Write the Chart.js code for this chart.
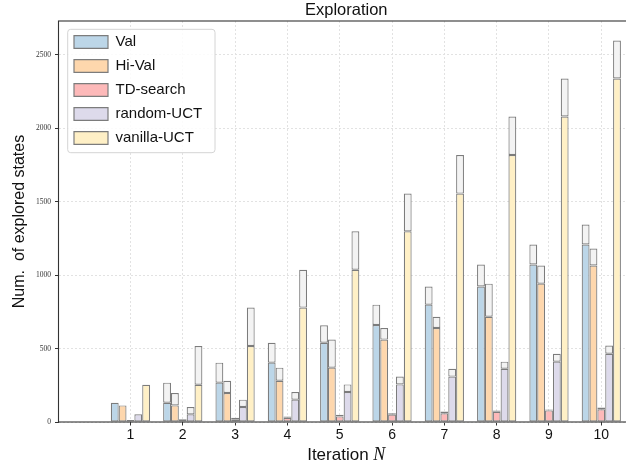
<!DOCTYPE html>
<html><head><meta charset="utf-8">
<script src="https://cdn.jsdelivr.net/npm/chart.js@4/dist/chart.umd.min.js"></script>
<style>html,body{margin:0;padding:0;overflow:hidden;background:#fff;} #wrap{width:636px;height:467px;}</style>
</head><body><div id="wrap"><canvas id="c" width="636" height="467"></canvas></div>
<script>
// ---- data ----
const iterations = [1, 2, 3, 4, 5, 6, 7, 8, 9, 10];
const yTicks = [0, 500, 1000, 1500, 2000, 2500];
const seriesNames = ['Val', 'Hi-Val', 'TD-search', 'random-UCT', 'vanilla-UCT'];
// states explored before the iteration (coloured part)
const valBase      = [131, 131, 268, 404, 540, 660, 799, 922, 1072, 1208];
const hiValBase    = [113, 113, 197, 281, 370, 561, 640, 717, 942, 1065];
const tdBase       = [13, 13, 18, 29, 38, 50, 59, 70, 79, 86];
const randomBase   = [52, 52, 102, 152, 204, 256, 309, 363, 411, 465];
const vanillaBase  = [254, 254, 517, 779, 1037, 1298, 1555, 1818, 2080, 2339];
// total states after the iteration (top of the light part)
const valTotal     = [131, 268, 404, 540, 658, 799, 922, 1072, 1208, 1344];
const hiValTotal   = [113, 197, 281, 370, 561, 640, 717, 942, 1065, 1181];
const tdTotal      = [13, 18, 29, 37, 50, 59, 71, 79, 85, 98];
const randomTotal  = [52, 102, 152, 204, 256, 309, 363, 411, 465, 520];
const vanillaTotal = [254, 517, 779, 1037, 1298, 1555, 1818, 2080, 2339, 2597];

// ---- styling ----
const fills = ['#bcd6e8', '#fed7ad', '#fdb9b9', '#dddaeb', '#fff0c6'];
const newFill = '#f3f3f3';
const edge = '#7c7c7c';
const SANS = '"Liberation Sans", Arial, sans-serif';

const seriesBase = [valBase, hiValBase, tdBase, randomBase, vanillaBase];
const seriesTotal = [valTotal, hiValTotal, tdTotal, randomTotal, vanillaTotal];

const datasets = [];
seriesNames.forEach((name, s) => {
  datasets.push({
    label: name, stack: name,
    data: iterations.map((x, i) => ({x: x, y: seriesBase[s][i]})),
    backgroundColor: fills[s], borderColor: edge, borderWidth: 1.2, borderSkipped: false
  });
  datasets.push({
    label: name + ' (new)', stack: name,
    data: iterations.map((x, i) => {
      const d = seriesTotal[s][i] - seriesBase[s][i];
      return {x: x, y: d > 0 ? d : null};
    }),
    backgroundColor: newFill, borderColor: edge, borderWidth: 1.2, borderSkipped: false
  });
});

const framePlugin = {
  id: 'frame',
  afterLayout(chart) {
    const lg = chart.legend, ca = chart.chartArea;
    if (lg) {
      lg.left = ca.left + 6.5;
      lg.top = ca.top + 4.5;
      if (!lg._patched) {
        const orig = lg.draw.bind(lg);
        lg.draw = function (area) {
          const ctx = chart.ctx;
          const x = this.left + 9 - 6.3, y = this.top + 9 - 5.2, w = 147.3, h = 123.4, r = 3;
          ctx.save();
          ctx.beginPath();
          ctx.moveTo(x + r, y); ctx.lineTo(x + w - r, y); ctx.arcTo(x + w, y, x + w, y + r, r);
          ctx.lineTo(x + w, y + h - r); ctx.arcTo(x + w, y + h, x + w - r, y + h, r);
          ctx.lineTo(x + r, y + h); ctx.arcTo(x, y + h, x, y + h - r, r);
          ctx.lineTo(x, y + r); ctx.arcTo(x, y, x + r, y, r); ctx.closePath();
          ctx.fillStyle = 'rgba(255,255,255,0.85)'; ctx.fill();
          ctx.strokeStyle = '#d4d4d4'; ctx.lineWidth = 1; ctx.stroke();
          ctx.restore();
          orig(area);
        };
        lg._patched = true;
      }
    }
  },
  afterDatasetsDraw(chart) {
    const ctx = chart.ctx, ca = chart.chartArea;
    ctx.save();
    ctx.strokeStyle = '#333'; ctx.lineWidth = 1.1;
    ctx.strokeRect(ca.left, ca.top, ca.right - ca.left, ca.bottom - ca.top);
    ctx.restore();
  },
  afterDraw(chart) {
    const ctx = chart.ctx, ca = chart.chartArea;
    ctx.save();
    ctx.fillStyle = '#111';
    ctx.textBaseline = 'alphabetic';
    const f1 = '17px ' + SANS, f2 = 'italic 18px "Liberation Serif", serif';
    ctx.font = f1; const w1 = ctx.measureText('Iteration ').width;
    ctx.font = f2; const w2 = ctx.measureText('N').width;
    const x0 = (ca.left + ca.right) / 2 - (w1 + w2) / 2;
    ctx.font = f1; ctx.textAlign = 'left'; ctx.fillText('Iteration ', x0, 460);
    ctx.font = f2; ctx.fillText('N', x0 + w1, 460);
    ctx.restore();
  }
};

new Chart(document.getElementById('c'), {
  type: 'bar',
  data: {datasets: datasets},
  plugins: [framePlugin],
  options: {
    responsive: false, animation: false,
    devicePixelRatio: 1,
    layout: {padding: {left: 0, right: 2, top: 0, bottom: 0}},
    datasets: {bar: {categoryPercentage: 0.75, barPercentage: 1}},
    plugins: {
      tooltip: {enabled: false},
      title: {
        display: true, text: 'Exploration', fullSize: false,
        font: {family: SANS, size: 16.5, weight: 'normal'}, color: '#111',
        padding: {top: 0.5, bottom: 0.7}
      },
      legend: {
        display: true, position: 'chartArea', align: 'start',
        labels: {
          filter: (item) => item.datasetIndex % 2 === 0,
          boxWidth: 34, boxHeight: 12.7, padding: 9,
          font: {family: SANS, size: 15}, color: '#111'
        }
      }
    },
    scales: {
      x: {
        type: 'linear', min: -0.375, max: 10.625, offset: false,
        afterBuildTicks: (sc) => { sc.ticks = iterations.map(v => ({value: v})); },
        afterFit: (sc) => { sc.height = 45; },
        grid: {color: '#e2e2e2', lineWidth: 1, offset: false, z: -1,
               drawTicks: true, tickLength: 3.5, tickColor: '#333', tickWidth: 1, tickBorderDash: []},
        border: {display: false, dash: [2, 2]},
        ticks: {font: {family: SANS, size: 14}, color: '#111', padding: 1, maxRotation: 0, autoSkip: false},
        title: {display: false}
      },
      y: {
        stacked: true, min: 0, max: 2730,
        afterBuildTicks: (sc) => { sc.ticks = yTicks.map(v => ({value: v})); },
        afterFit: (sc) => { sc.width = 58.5; },
        grid: {color: '#e2e2e2', lineWidth: 1, z: -1,
               drawTicks: true, tickLength: 3.5, tickColor: '#333', tickWidth: 1, tickBorderDash: []},
        border: {display: false, dash: [2, 2]},
        ticks: {font: {family: '"Liberation Serif", serif', size: 7.5}, color: '#333', padding: 4,
                callback: (v) => String(v)},
        title: {display: true, text: 'Num.  of explored states', color: '#111',
                font: {family: SANS, size: 16}, padding: {top: 10.4, bottom: 0}}
      }
    }
  }
});
</script>
</body></html>
